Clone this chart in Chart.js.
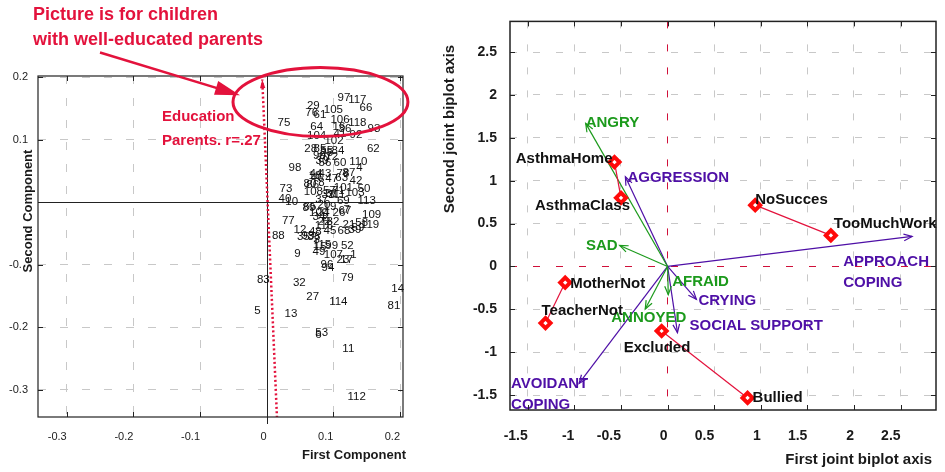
<!DOCTYPE html>
<html>
<head>
<meta charset="utf-8">
<script src="https://cdn.jsdelivr.net/npm/chart.js@4.4.1/dist/chart.umd.min.js"></script>
<style>
  body { margin: 0; background: #fff; }
  #pcaBox { position: absolute; left: 0; top: 0; width: 440px; height: 472px; }
  #biplotBox { position: absolute; left: 440px; top: 0; width: 505px; height: 472px; }
</style>
</head>
<body>
<div id="pcaBox"><canvas id="pcaCanvas"></canvas></div>
<div id="biplotBox"><canvas id="biplotCanvas"></canvas></div>
<script>
// ---- left panel: children on the first two components ----
var childIds = [97,117,66,29,105,76,61,75,64,106,118,93,16,36,104,41,92,102,28,85,55,84,62,90,70,72,56,60,110,98,4,
  43,18,46,47,78,87,63,42,73,80,50,108,57,71,31,103,33,40,10,37,69,113,89,65,19,26,67,109,24,34,77,88,22,82,58,
  119,21,39,45,68,12,35,95,38,15,115,99,52,9,49,107,1,23,17,96,94,83,32,79,14,27,114,81,5,13,53,6,11,112,
  116,59,2,48,100,44,30,86,101,25,8,3,7,20,111];
var comp1 = [0.116,0.136,0.149,0.070,0.100,0.0675,0.080,0.026,0.075,0.110,0.136,0.161,0.1085,0.1175,0.075,0.110,0.134,0.101,0.066,0.080,0.090,0.107,0.160,0.079,0.085,0.0975,0.0875,0.110,0.1375,0.0425,0.139,
  0.0875,0.0725,0.0755,0.0975,0.1145,0.1235,0.1125,0.134,0.029,0.065,0.146,0.070,0.094,0.1075,0.0975,0.1325,0.092,0.0275,0.0375,0.0825,0.115,0.150,0.0635,0.065,0.095,0.1085,0.1175,0.1575,0.085,0.0785,0.0325,0.0175,0.086,0.0995,0.1425,
  0.155,0.1235,0.1325,0.095,0.116,0.050,0.055,0.062,0.071,0.080,0.083,0.0975,0.121,0.046,0.0785,0.100,0.130,0.1145,0.120,0.0905,0.092,-0.005,0.049,0.121,0.1965,0.069,0.1075,0.191,-0.014,0.0365,0.0825,0.0775,0.1225,0.135,
  0.086,0.137,0.088,0.073,0.078,0.074,0.083,0.069,0.115,0.090,0.082,0.075,0.120,0.086,0.105];
var comp2 = [0.167,0.163,0.151,0.154,0.147,0.142,0.1395,0.126,0.120,0.131,0.126,0.1165,0.121,0.1175,0.106,0.1085,0.1075,0.098,0.0845,0.0845,0.082,0.082,0.0845,0.074,0.071,0.0723,0.063,0.063,0.065,0.055,0.054,
  0.0445,0.042,0.039,0.0365,0.0455,0.047,0.038,0.034,0.0205,0.0295,0.0205,0.017,0.018,0.018,0.0125,0.015,0.012,0.0045,0.001,0.0035,0.002,0.002,-0.009,-0.007,-0.0077,-0.0168,-0.0136,-0.021,-0.0173,-0.023,-0.0307,-0.0547,-0.031,-0.0317,-0.0333,
  -0.037,-0.036,-0.044,-0.0456,-0.0456,-0.044,-0.0563,-0.0536,-0.055,-0.0723,-0.068,-0.0707,-0.0707,-0.083,-0.079,-0.084,-0.084,-0.092,-0.092,-0.100,-0.105,-0.125,-0.129,-0.121,-0.139,-0.152,-0.160,-0.166,-0.1736,-0.178,-0.209,-0.212,-0.235,-0.312,
  -0.0376,-0.041,-0.025,-0.047,-0.018,0.045,0.066,0.027,0.022,0.078,0.030,-0.060,-0.012,-0.004,0.012];
var eduVecX = [0.0155, -0.0066];
var eduVecY = [-0.345, 0.196];
var pcaXTicks = [-0.3, -0.2, -0.1, 0, 0.1, 0.2];
var pcaXLabels = ['-0.3', '-0.2', '-0.1', '0', '0.1', '0.2'];
var pcaYTicks = [-0.3, -0.2, -0.1, 0, 0.1, 0.2];
var pcaYLabels = ['-0.3', '-0.2', '-0.1', '0', '0.1', '0.2'];

// ---- right panel: joint biplot ----
var situations = ['AsthmaHome', 'AsthmaClass', 'NoSucces', 'TooMuchWork', 'MotherNot', 'TeacherNot', 'Excluded', 'Bullied'];
var sitX = [-0.57, -0.50, 0.94, 1.752, -1.099, -1.31, -0.064, 0.858];
var sitY = [1.217, 0.80, 0.715, 0.362, -0.188, -0.66, -0.753, -1.533];
var sitPairs = [[0, 1], [2, 3], [4, 5], [6, 7]];
var emotions = ['ANGRY', 'SAD', 'AFRAID', 'ANNOYED'];
var emoX = [-0.879, -0.514, 0.007, -0.24];
var emoY = [1.669, 0.245, -0.328, -0.497];
var copings = ['AGGRESSION', 'APPROACH\nCOPING', 'CRYING', 'SOCIAL SUPPORT', 'AVOIDANT\nCOPING'];
var copX = [-0.453, 2.624, 0.309, 0.106, -0.95];
var copY = [1.047, 0.35, -0.384, -0.772, -1.364];
var bipXTicks = [-1.5, -1, -0.5, 0, 0.5, 1, 1.5, 2, 2.5];
var bipXLabels = ['-1.5', '-1', '-0.5', '0', '0.5', '1', '1.5', '2', '2.5'];
var bipYTicks = [-1.5, -1, -0.5, 0, 0.5, 1, 1.5, 2, 2.5];
var bipYLabels = ['-1.5', '-1', '-0.5', '0', '0.5', '1', '1.5', '2', '2.5'];

var RED = '#e3123c';
var GREEN = '#1c9a1c';
var PURPLE = '#4e0fa6';
var FONT = "'Liberation Sans', Arial, sans-serif";
Chart.defaults.font.family = FONT;

// label placement: [dx, dy, align] in pixels from the mark
var sitLabelPos = {
  AsthmaHome: [-2, -3, 'right'], AsthmaClass: [9, 8, 'right'], NoSucces: [0, -5, 'left'],
  TooMuchWork: [3, -12, 'left'], MotherNot: [5, 1, 'left'], TeacherNot: [-4, -12, 'left'],
  Excluded: [-38, 17, 'left'], Bullied: [5, 0, 'left']
};
var vecLabelPos = {
  'ANGRY': [0, 0, 'left'], 'SAD': [-2, 0, 'right'], 'AFRAID': [4, -13, 'left'], 'ANNOYED': [-34, 9, 'left'],
  'AGGRESSION': [2, 1, 'left'], 'APPROACH\nCOPING': [-69, 25, 'left'], 'CRYING': [2, 1, 'left'],
  'SOCIAL SUPPORT': [12, -7, 'left'], 'AVOIDANT\nCOPING': [-68, 0, 'left']
};

function arrowHead(c, x0, y0, x1, y1, len, ang, fill) {
  var a = Math.atan2(y1 - y0, x1 - x0);
  c.beginPath();
  c.moveTo(x1 - len * Math.cos(a - ang), y1 - len * Math.sin(a - ang));
  c.lineTo(x1, y1);
  c.lineTo(x1 - len * Math.cos(a + ang), y1 - len * Math.sin(a + ang));
  if (fill) { c.closePath(); c.fill(); } else { c.stroke(); }
}

function drawFrame(chart, xTicks, yTicks, width) {
  var c = chart.ctx, a = chart.chartArea, xs = chart.scales.x, ys = chart.scales.y;
  c.save();
  c.strokeStyle = '#222';
  c.lineWidth = 1;
  xTicks.forEach(function(v) {
    var px = Math.round(xs.getPixelForValue(v)) + 0.5;
    c.beginPath();
    c.moveTo(px, a.bottom); c.lineTo(px, a.bottom - 5);
    c.moveTo(px, a.top); c.lineTo(px, a.top + 5);
    c.stroke();
  });
  yTicks.forEach(function(v) {
    var py = Math.round(ys.getPixelForValue(v)) + 0.5;
    c.beginPath();
    c.moveTo(a.left, py); c.lineTo(a.left + 5, py);
    c.moveTo(a.right, py); c.lineTo(a.right - 5, py);
    c.stroke();
  });
  c.lineWidth = width;
  c.strokeRect(a.left, a.top, a.right - a.left, a.bottom - a.top);
  c.restore();
}

function pixelsOf(chart, xv, yv) {
  return [chart.scales.x.getPixelForValue(xv), chart.scales.y.getPixelForValue(yv)];
}

var pcaDecor = {
  id: 'pcaDecor',
  beforeDatasetsDraw: function(chart) {
    var c = chart.ctx, a = chart.chartArea;
    var z = pixelsOf(chart, 0, 0);
    c.save();
    c.strokeStyle = '#222';
    c.lineWidth = 1;
    c.beginPath();
    c.moveTo(Math.round(z[0]) + 0.5, a.top); c.lineTo(Math.round(z[0]) + 0.5, a.bottom + 7);
    c.moveTo(a.left, Math.round(z[1]) + 0.5); c.lineTo(a.right, Math.round(z[1]) + 0.5);
    c.stroke();
    c.restore();
  },
  afterDatasetsDraw: function(chart) {
    var c = chart.ctx;
    var pts = chart.getDatasetMeta(0).data;
    c.save();
    c.fillStyle = '#111';
    c.font = '11.5px ' + FONT;
    c.textAlign = 'center';
    c.textBaseline = 'middle';
    pts.forEach(function(p, i) { c.fillText(String(childIds[i]), p.x, p.y); });
    c.restore();
  },
  afterDraw: function(chart) {
    var c = chart.ctx;
    drawFrame(chart, pcaXTicks, pcaYTicks, 1.2);
    c.save();
    // education vector head
    var e = chart.getDatasetMeta(1).data;
    c.fillStyle = RED;
    arrowHead(c, e[0].x, e[0].y, e[1].x, e[1].y, 9, 0.3, true);
    // circled region and pointer
    var ctr = pixelsOf(chart, 0.0807, 0.160);
    var edge = pixelsOf(chart, 0.0807 + 0.1312, 0.160 + 0.0552);
    c.strokeStyle = RED;
    c.lineWidth = 3;
    c.beginPath();
    c.ellipse(ctr[0], ctr[1], edge[0] - ctr[0], ctr[1] - edge[1], 0, 0, Math.PI * 2);
    c.stroke();
    var s = pixelsOf(chart, -0.25, 0.2392), t = pixelsOf(chart, -0.040, 0.171);
    c.lineWidth = 2.5;
    c.beginPath(); c.moveTo(s[0], s[1]); c.lineTo(t[0] - 18, t[1] - 5.5); c.stroke();
    arrowHead(c, s[0], s[1], t[0], t[1], 26, 0.28, true);
    // annotation text
    c.font = 'bold 18px ' + FONT;
    c.textAlign = 'left';
    c.textBaseline = 'middle';
    c.fillText('Picture is for children', 33, 15);
    c.fillText('with well-educated parents', 33, 40);
    c.font = 'bold 15px ' + FONT;
    c.fillText('Education', 162, 117);
    c.fillText('Parents. r=.27', 162, 141);
    // axis titles
    c.fillStyle = '#fff';
    c.fillRect(21, 148, 14, 128);
    c.fillStyle = '#1a1a1a';
    c.font = 'bold 13px ' + FONT;
    c.textAlign = 'right';
    c.fillText('First Component', 406, 455);
    c.translate(28, 211);
    c.rotate(-Math.PI / 2);
    c.textAlign = 'center';
    c.fillText('Second Component', 0, 0);
    c.restore();
  }
};

var bipDecor = {
  id: 'bipDecor',
  afterDatasetsDraw: function(chart) {
    var c = chart.ctx;
    c.save();
    c.textBaseline = 'middle';
    c.font = 'bold 15px ' + FONT;
    chart.data.datasets.forEach(function(ds, i) {
      if (!ds.vectorName) return;
      var p = chart.getDatasetMeta(i).data;
      c.strokeStyle = ds.borderColor;
      c.lineWidth = 1.2;
      arrowHead(c, p[0].x, p[0].y, p[1].x, p[1].y, 9, 0.38, false);
      var st = vecLabelPos[ds.vectorName];
      c.fillStyle = ds.borderColor;
      c.textAlign = st[2];
      ds.vectorName.split('\n').forEach(function(line, k) {
        c.fillText(line, p[1].x + st[0], p[1].y + st[1] + k * 21);
      });
    });
    var d = chart.getDatasetMeta(0).data;
    c.fillStyle = '#111';
    d.forEach(function(p, i) {
      var st = sitLabelPos[situations[i]];
      c.textAlign = st[2];
      c.fillText(situations[i], p.x + st[0], p.y + st[1]);
    });
    c.restore();
  },
  afterDraw: function(chart) {
    var c = chart.ctx;
    drawFrame(chart, bipXTicks, bipYTicks, 1.5);
    c.save();
    c.fillStyle = '#1a1a1a';
    c.font = 'bold 15px ' + FONT;
    c.textBaseline = 'middle';
    c.textAlign = 'right';
    c.fillText('First joint biplot axis', 492, 460);
    c.translate(10, 129);
    c.rotate(-Math.PI / 2);
    c.textAlign = 'center';
    c.fillText('Second joint biplot axis', 0, 0);
    c.restore();
  }
};

function fixedTicks(vals) {
  return function(s) { s.ticks = vals.map(function(v) { return { value: v }; }); };
}

// left chart
var pcaPoints = childIds.map(function(id, i) { return { x: comp1[i], y: comp2[i] }; });
new Chart(document.getElementById('pcaCanvas').getContext('2d'), {
  type: 'scatter',
  data: {
    datasets: [
      { data: pcaPoints, pointRadius: 0, pointHoverRadius: 0 },
      { type: 'line', data: [{ x: eduVecX[0], y: eduVecY[0] }, { x: eduVecX[1], y: eduVecY[1] }],
        borderColor: RED, borderWidth: 2.5, borderDash: [2, 2.5], pointRadius: 0, showLine: true }
    ]
  },
  options: {
    responsive: true, maintainAspectRatio: false, animation: false,
    layout: { padding: { top: 76, right: 37, left: 0, bottom: 0 } },
    plugins: { legend: { display: false }, tooltip: { enabled: false } },
    scales: {
      x: {
        type: 'linear', min: -0.343, max: 0.2045,
        afterBuildTicks: fixedTicks(pcaXTicks),
        afterFit: function(s) { s.height = 55; },
        grid: { color: function(ctx) { return ctx.tick && ctx.tick.value === 0 ? 'rgba(0,0,0,0)' : '#c8c8c8'; }, drawTicks: false },
        border: { display: false, dash: [8, 14] },
        ticks: { align: 'end', padding: 13, color: '#222', font: { size: 11 },
          callback: function(v, i) { return pcaXLabels[i]; } }
      },
      y: {
        type: 'linear', min: -0.3437, max: 0.2016,
        afterBuildTicks: fixedTicks(pcaYTicks),
        afterFit: function(s) { s.width = 38; },
        grid: { color: function(ctx) { return ctx.tick && ctx.tick.value === 0 ? 'rgba(0,0,0,0)' : '#c8c8c8'; }, drawTicks: false },
        border: { display: false, dash: [8, 14] },
        ticks: { padding: 10, color: '#222', font: { size: 11 },
          callback: function(v, i) { return pcaYLabels[i]; } }
      }
    }
  },
  plugins: [pcaDecor]
});

// right chart
var bipSets = [
  { data: situations.map(function(n, i) { return { x: sitX[i], y: sitY[i] }; }),
    pointStyle: 'rectRot', pointRadius: 5, pointBorderWidth: 4, borderColor: '#ff0a0a',
    backgroundColor: '#fff', pointBackgroundColor: '#fff', showLine: false }
];
sitPairs.forEach(function(pr) {
  bipSets.push({ type: 'line', data: pr.map(function(k) { return { x: sitX[k], y: sitY[k] }; }),
    borderColor: RED, borderWidth: 1.2, pointRadius: 0, showLine: true });
});
emotions.forEach(function(n, i) {
  bipSets.push({ type: 'line', vectorName: n, data: [{ x: 0, y: 0 }, { x: emoX[i], y: emoY[i] }],
    borderColor: GREEN, borderWidth: 1.2, pointRadius: 0, showLine: true });
});
copings.forEach(function(n, i) {
  bipSets.push({ type: 'line', vectorName: n, data: [{ x: 0, y: 0 }, { x: copX[i], y: copY[i] }],
    borderColor: PURPLE, borderWidth: 1.2, pointRadius: 0, showLine: true });
});

function bipGridColor(ctx) {
  return ctx.tick && ctx.tick.value === 0 ? '#d0103a' : '#c8c8c8';
}

new Chart(document.getElementById('biplotCanvas').getContext('2d'), {
  type: 'scatter',
  data: { datasets: bipSets },
  options: {
    responsive: true, maintainAspectRatio: false, animation: false,
    layout: { padding: { top: 8, right: 5, left: 0, bottom: 0 } },
    plugins: { legend: { display: false }, tooltip: { enabled: false } },
    scales: {
      x: {
        type: 'linear', min: -1.691, max: 2.880,
        afterBuildTicks: fixedTicks(bipXTicks),
        afterFit: function(s) { s.height = 62; },
        grid: { color: bipGridColor, drawTicks: false },
        border: { display: false, dash: [7, 16] },
        ticks: { align: 'end', padding: 18, color: '#1a1a1a', font: { size: 14, weight: 'bold' },
          callback: function(v, i) { return bipXLabels[i]; } }
      },
      y: {
        type: 'linear', min: -1.674, max: 2.858,
        afterBuildTicks: fixedTicks(bipYTicks),
        afterFit: function(s) { s.width = 70; },
        grid: { color: bipGridColor, drawTicks: false },
        border: { display: false, dash: [7, 16] },
        ticks: { padding: 13, color: '#1a1a1a', font: { size: 14, weight: 'bold' },
          callback: function(v, i) { return bipYLabels[i]; } }
      }
    }
  },
  plugins: [bipDecor]
});
</script>
</body>
</html>
